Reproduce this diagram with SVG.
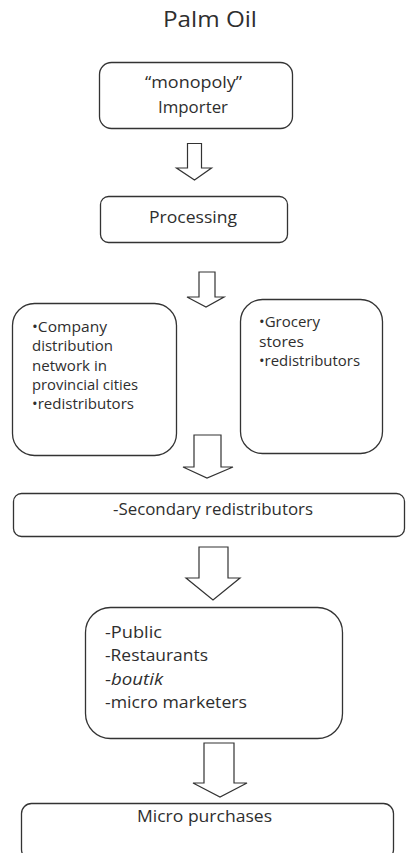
<svg xmlns="http://www.w3.org/2000/svg" width="406" height="853" viewBox="0 0 406 853">
  <style>
    .box { fill: #ffffff; stroke: #333333; stroke-width: 1.3; }
    .arrow { fill: #ffffff; stroke: #333333; stroke-width: 1.2; stroke-linejoin: miter; }
    text { font-family: "Open Sans", "Noto Sans", "Liberation Sans", sans-serif; fill: #2e2e2e; }
    .title { font-size: 22px; }
    .lbl { font-size: 17px; }
    .sm { font-size: 14px; }
    .mid { text-anchor: middle; }
  </style>

  <rect width="406" height="853" fill="#ffffff"/>

  <text id="title" class="title mid" x="210" y="27" textLength="94" lengthAdjust="spacingAndGlyphs">Palm Oil</text>

  <!-- block arrows between stages -->
  <g id="connectors">
    <path class="arrow" d="M187.5,143.5 H201.5 V168 H211.5 L194.5,180 L176.5,168 H187.5 Z"/>
    <path class="arrow" d="M199,272 H215 V297 H224 L206,307 L187,297 H199 Z"/>
    <path class="arrow" d="M194,435 H221 V467 H233 L207,478 L183,467 H194 Z"/>
    <path class="arrow" d="M199,547 H228 V578 H240 L213,600 L186,578 H199 Z"/>
    <path class="arrow" d="M204,743 H234 V783 H247 L220,797 L193,783 H204 Z"/>
  </g>

  <g id="importer">
    <rect class="box" x="99.5" y="62.5" width="193" height="66" rx="12"/>
    <text class="lbl mid" x="193.5" y="88" textLength="97" lengthAdjust="spacingAndGlyphs">“monopoly”</text>
    <text class="lbl mid" x="193" y="113" textLength="70" lengthAdjust="spacingAndGlyphs">Importer</text>
  </g>

  <g id="processing">
    <rect class="box" x="100.5" y="196.5" width="187" height="46" rx="8"/>
    <text class="lbl mid" x="193" y="223" textLength="88" lengthAdjust="spacingAndGlyphs">Processing</text>
  </g>

  <g id="company-network">
    <rect class="box" x="12.5" y="303.5" width="164" height="152" rx="22"/>
    <text class="sm" x="32" y="332" textLength="75" lengthAdjust="spacingAndGlyphs">•Company</text>
    <text class="sm" x="32" y="351" textLength="81" lengthAdjust="spacingAndGlyphs">distribution</text>
    <text class="sm" x="32" y="371" textLength="75" lengthAdjust="spacingAndGlyphs">network in</text>
    <text class="sm" x="32" y="390" textLength="106" lengthAdjust="spacingAndGlyphs">provincial cities</text>
    <text class="sm" x="32" y="409" textLength="102" lengthAdjust="spacingAndGlyphs">•redistributors</text>
  </g>

  <g id="grocery">
    <rect class="box" x="240.5" y="299.5" width="142" height="154" rx="22"/>
    <text class="sm" x="259" y="327" textLength="61" lengthAdjust="spacingAndGlyphs">•Grocery</text>
    <text class="sm" x="259" y="347" textLength="45" lengthAdjust="spacingAndGlyphs">stores</text>
    <text class="sm" x="259" y="366" textLength="101" lengthAdjust="spacingAndGlyphs">•redistributors</text>
  </g>

  <g id="secondary">
    <rect class="box" x="13.5" y="493.5" width="391" height="43" rx="8"/>
    <text class="lbl mid" x="213" y="515" textLength="200" lengthAdjust="spacingAndGlyphs">-Secondary redistributors</text>
  </g>

  <g id="retail">
    <rect class="box" x="85.5" y="607.5" width="257" height="131" rx="25"/>
    <text class="lbl" x="105" y="638" textLength="57" lengthAdjust="spacingAndGlyphs">-Public</text>
    <text class="lbl" x="105" y="661" textLength="103" lengthAdjust="spacingAndGlyphs">-Restaurants</text>
    <text class="lbl" x="105" y="685" textLength="58" lengthAdjust="spacingAndGlyphs">-<tspan font-style="italic">boutik</tspan></text>
    <text class="lbl" x="105" y="708" textLength="142" lengthAdjust="spacingAndGlyphs">-micro marketers</text>
  </g>

  <g id="micro-purchases">
    <rect class="box" x="21.5" y="803.5" width="372" height="56" rx="10"/>
    <text class="lbl mid" x="204.5" y="822" textLength="135" lengthAdjust="spacingAndGlyphs">Micro purchases</text>
  </g>
</svg>
